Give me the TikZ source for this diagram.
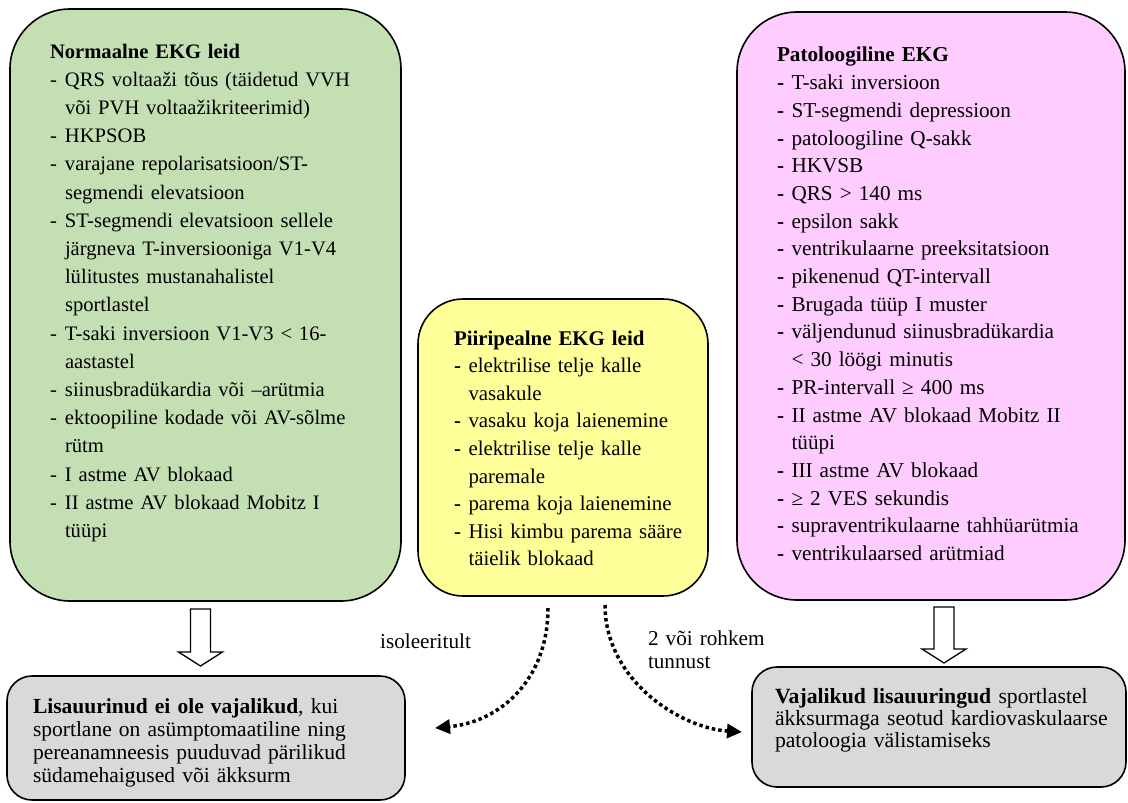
\documentclass[tikz,border=0pt]{standalone}
\usepackage{fontspec}
\setmainfont{Liberation Serif}
\usetikzlibrary{arrows.meta,calc}
\definecolor{gfill}{HTML}{C4DFB3}
\definecolor{yfill}{HTML}{FFFF99}
\definecolor{pfill}{HTML}{FFCCFF}
\definecolor{grfill}{HTML}{D9D9D9}
\newcommand\gdash{\makebox[15pt][l]{-}}
\newcommand\bdash{\makebox[14.5pt][l]{\textbf{-}}}
\newcommand\hind[1]{\hspace*{#1}}
\newcommand\fsGreen{\fontsize{20.6}{28.2}\selectfont}
\newcommand\fsYel{\fontsize{20.9}{27.6}\selectfont}
\newcommand\fsPink{\fontsize{21.2}{27.7}\selectfont}
\newcommand\fsGrL{\fontsize{21.5}{23}\selectfont}
\newcommand\fsGrR{\fontsize{21.7}{22}\selectfont}
\newcommand\fsLab{\fontsize{21.2}{23}\selectfont}
\tikzset{
  boxshape/.style={draw=black, line width=1.6pt, inner sep=0pt, outer sep=0pt, rectangle},
  txtblock/.style={anchor=north west, inner sep=0pt, outer sep=0pt, align=left, text width=#1},
  barrow/.style={draw=black, fill=white, line width=1.3pt, line join=miter},
  dotarrow/.style={line width=3.5pt, dash pattern=on 3.5pt off 3pt, -{Triangle[length=15pt,width=14pt]}}
}
\begin{document}
\begin{tikzpicture}[x=1pt,y=-1pt]
\useasboundingbox (0,0) rectangle (1128,803);

% boxes
\node[boxshape, fill=gfill, rounded corners=60pt, minimum width=391pt, minimum height=592pt] (green) at (205.5,305) {};
\node[boxshape, fill=yfill, rounded corners=45pt, minimum width=290pt, minimum height=297pt] (yellow) at (563,447.5) {};
\node[boxshape, fill=pfill, rounded corners=60pt, minimum width=388pt, minimum height=588pt] (pink) at (931,306) {};
\node[boxshape, fill=grfill, rounded corners=25pt, minimum width=398pt, minimum height=124pt] (gl) at (206,738) {};
\node[boxshape, fill=grfill, rounded corners=25pt, minimum width=374pt, minimum height=120pt] (gr) at (939,727) {};

% texts
\node[txtblock=360pt, font=\fsGreen] (gtext) at (50,38.3) {\strut\textbf{Normaalne EKG leid}\\
\gdash QRS voltaaži tõus (täidetud VVH\\
\hind{15pt}või PVH voltaažikriteerimid)\\
\gdash HKPSOB\\
\gdash varajane repolarisatsioon/ST-\\
\hind{15pt}segmendi elevatsioon\\
\gdash ST-segmendi elevatsioon sellele\\
\hind{15pt}järgneva T-inversiooniga V1-V4\\
\hind{15pt}lülitustes mustanahalistel\\
\hind{15pt}sportlastel\\
\gdash T-saki inversioon V1-V3 < 16-\\
\hind{15pt}aastastel\\
\gdash siinusbradükardia või –arütmia\\
\gdash ektoopiline kodade või AV-sõlme\\
\hind{15pt}rütm\\
\gdash I astme AV blokaad\\
\gdash II astme AV blokaad Mobitz I\\
\hind{15pt}tüüpi};

\node[txtblock=260pt, font=\fsYel] (ytext) at (454,325.7) {\strut\textbf{Piiripealne EKG leid}\\
\bdash elektrilise telje kalle\\
\hind{14.5pt}vasakule\\
\bdash vasaku koja laienemine\\
\bdash elektrilise telje kalle\\
\hind{14.5pt}paremale\\
\bdash parema koja laienemine\\
\bdash Hisi kimbu parema sääre\\
\hind{14.5pt}täielik blokaad};

\node[txtblock=345pt, font=\fsPink] (ptext) at (777,42.6) {\strut\textbf{Patoloogiline EKG}\\
\bdash T-saki inversioon\\
\bdash ST-segmendi depressioon\\
\bdash patoloogiline Q-sakk\\
\bdash HKVSB\\
\bdash QRS > 140 ms\\
\bdash epsilon sakk\\
\bdash ventrikulaarne preeksitatsioon\\
\bdash pikenenud QT-intervall\\
\bdash Brugada tüüp I muster\\
\bdash väljendunud siinusbradükardia\\
\hind{14.5pt}< 30 löögi minutis\\
\bdash PR-intervall ≥ 400 ms\\
\bdash II astme AV blokaad Mobitz II\\
\hind{14.5pt}tüüpi\\
\bdash III astme AV blokaad\\
\bdash ≥ 2 VES sekundis\\
\bdash supraventrikulaarne tahhüarütmia\\
\bdash ventrikulaarsed arütmiad};

\node[txtblock=365pt, font=\fsGrL] (gltext) at (33,696.9) {\strut\textbf{Lisauurinud ei ole vajalikud}, kui\\
sportlane on asümptomaatiline ning\\
pereanamneesis puuduvad pärilikud\\
südamehaigused või äkksurm};

\node[txtblock=350pt, font=\fsGrR] (grtext) at (775,687.6) {\strut\textbf{Vajalikud lisauuringud} sportlastel\\
äkksurmaga seotud kardiovaskulaarse\\
patoloogia välistamiseks};

% labels
\node[anchor=base west, inner sep=0pt, font=\fsLab] (iso) at (380,648) {isoleeritult};
\node[txtblock=150pt, font=\fsLab] (kaks) at (648,628.9) {\strut 2 või rohkem\\tunnust};

% block arrows
\coordinate (la) at ([xshift=-5pt,yshift=-8pt]green.south);
\draw[barrow] ([xshift=-10pt]la) -- ++(0,43) -- ++(-12,0) -- ++(22,14) -- ++(22,-14) -- ++(-12,0) -- ++(0,-43) -- cycle;
\coordinate (ra) at ([xshift=13pt,yshift=-7pt]pink.south);
\draw[barrow] ([xshift=-10pt]ra) -- ++(0,42) -- ++(-12,0) -- ++(22,14) -- ++(22,-14) -- ++(-12,0) -- ++(0,-42) -- cycle;

% dotted arrows
\draw[dotarrow] ([xshift=-15pt,yshift=-12pt]yellow.south) .. controls +(0,72) and +(65,-6) .. ([xshift=30pt,yshift=10pt]gl.east);
\draw[dotarrow] ([xshift=42pt,yshift=-9pt]yellow.south) .. controls +(0,75) and +(-62,-4) .. ([xshift=-10pt,yshift=-5pt]gr.west);
\end{tikzpicture}
\end{document}
